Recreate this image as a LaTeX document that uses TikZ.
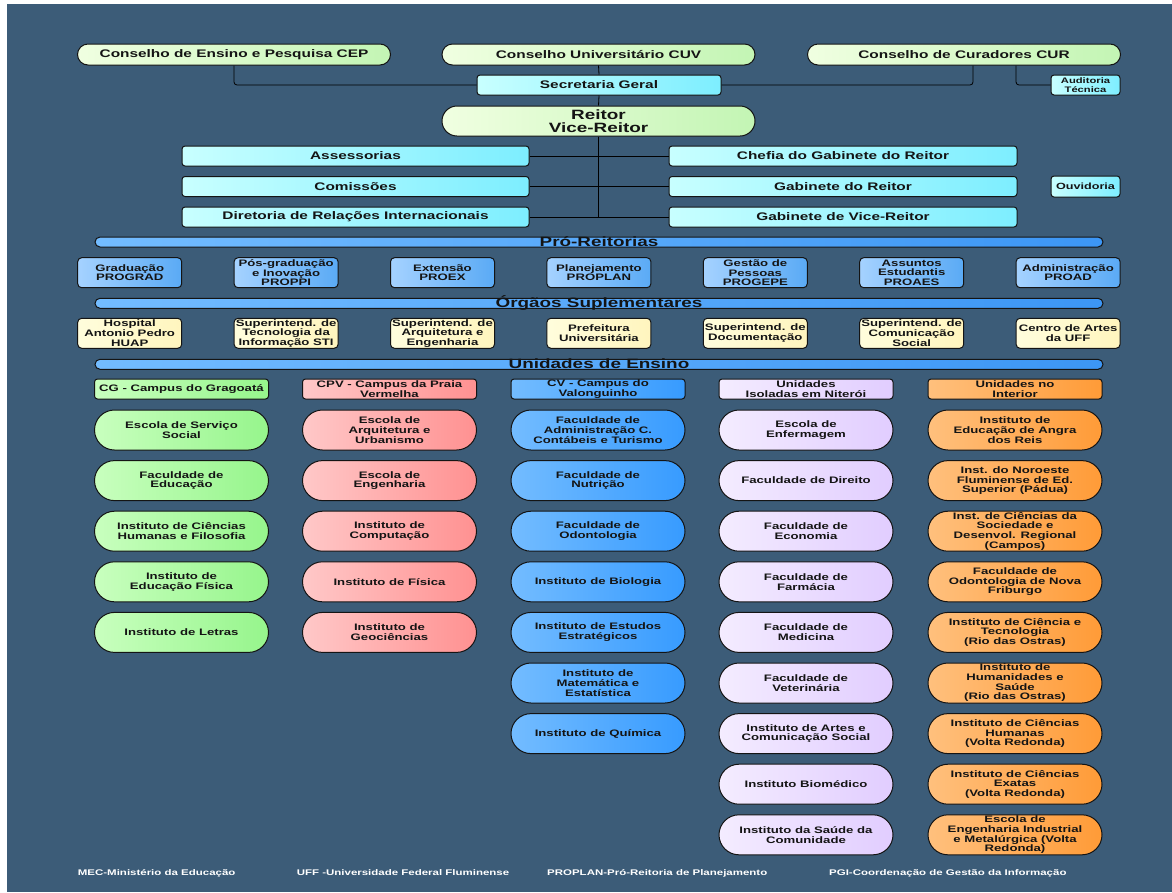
\documentclass[tikz,border=0pt]{standalone}
\usepackage{fontspec}
\newfontfamily\orgfont[FakeStretch=1.4]{Liberation Sans Bold}
\definecolor{bgc}{RGB}{60,92,120}
\definecolor{cnA}{RGB}{240,255,225}
\definecolor{cnB}{RGB}{195,245,180}
\definecolor{cyA}{RGB}{200,255,255}
\definecolor{cyB}{RGB}{125,238,255}
\definecolor{prA}{RGB}{165,210,255}
\definecolor{prB}{RGB}{90,170,245}
\definecolor{ogA}{RGB}{255,253,220}
\definecolor{ogB}{RGB}{255,245,190}
\definecolor{grA}{RGB}{200,255,190}
\definecolor{grB}{RGB}{150,245,140}
\definecolor{pkA}{RGB}{255,200,200}
\definecolor{pkB}{RGB}{255,145,145}
\definecolor{blA}{RGB}{115,188,255}
\definecolor{blB}{RGB}{55,155,255}
\definecolor{lvA}{RGB}{244,236,255}
\definecolor{lvB}{RGB}{225,205,255}
\definecolor{orA}{RGB}{255,192,125}
\definecolor{orB}{RGB}{255,155,55}
\definecolor{brA}{RGB}{115,188,255}
\definecolor{brB}{RGB}{60,150,245}
\definecolor{inkc}{RGB}{20,20,20}
\newcommand\fszA{\orgfont\fontsize{11}{12}\selectfont}
\newcommand\fszR{\orgfont\fontsize{13.5}{13.5}\selectfont}
\newcommand\fszS{\orgfont\fontsize{9.4}{9.7}\selectfont}
\newcommand\fszT{\orgfont\fontsize{8}{8.4}\selectfont}
\newcommand\fszO{\orgfont\fontsize{9}{9}\selectfont}
\newcommand\fszF{\orgfont\fontsize{8.2}{9}\selectfont}
\tikzset{
  box/.style={draw=inkc, line width=1pt, align=center, inner xsep=1pt, inner ysep=0pt, text=inkc},
  council/.style={box, rounded corners=10.5pt, minimum width=313pt, minimum height=21pt, left color=cnA, right color=cnB, font=\fszA},
  reitorbox/.style={box, rounded corners=15pt, minimum width=313pt, minimum height=30pt, left color=cnA, right color=cnB, font=\fszR},
  cybox/.style={box, rounded corners=3pt, minimum width=347pt, minimum height=20pt, left color=cyA, right color=cyB, font=\fszA},
  smallcy/.style={box, rounded corners=3pt, minimum width=69pt, minimum height=20pt, left color=cyA, right color=cyB},
  probox/.style={box, rounded corners=4pt, minimum width=104pt, minimum height=30pt, left color=prA, right color=prB, font=\fszS},
  orgbox/.style={box, rounded corners=4pt, minimum width=104pt, minimum height=30pt, left color=ogA, right color=ogB, font=\fszS},
  bar/.style={draw=inkc, line width=1pt, rounded corners=5pt, minimum width=1008pt, minimum height=10pt, inner sep=0pt, left color=brA, right color=brB},
  bartitle/.style={font=\fszR, text=inkc, inner sep=0pt, anchor=base},
  head/.style={box, rounded corners=3pt, minimum width=174pt, minimum height=20pt, font=\fszS},
  unit/.style={box, rounded corners=20pt, minimum width=174pt, minimum height=40pt, font=\fszS},
  gr/.style={left color=grA, right color=grB},
  pk/.style={left color=pkA, right color=pkB},
  bl/.style={left color=blA, right color=blB},
  lv/.style={left color=lvA, right color=lvB},
  orng/.style={left color=orA, right color=orB},
  conn/.style={draw=black, line width=0.8pt, rounded corners=3pt},
  foot/.style={font=\fszF, text=white, inner sep=0pt, anchor=base west}
}
\begin{document}
\begin{tikzpicture}[x=1pt,y=-1pt]
\useasboundingbox (0,0) rectangle (1172,892);
\fill[white] (0,0) rectangle (1172,892);
\fill[bgc] (7,4) rectangle (1172,892);

% top councils
\node[council] (cep) at (234,54.5) {Conselho de Ensino e Pesquisa CEP};
\node[council] (cuv) at (598.5,54.5) {Conselho Universitário CUV};
\node[council] (cur) at (964,54.5) {Conselho de Curadores CUR};
\node[cybox, minimum width=244pt] (sec) at (599,85) {Secretaria Geral};
\node[smallcy, font=\fszT] (aud) at (1085.5,85) {Auditoria\\Técnica};
\node[reitorbox] (rei) at (598.5,121) {Reitor\\Vice-Reitor};

\node[cybox] (ass) at (355.5,156) {Assessorias};
\node[cybox] (com) at (355.5,186.5) {Comissões};
\node[cybox] (dri) at (355.5,217) {Diretoria de Relações Internacionais};
\node[cybox, minimum width=348pt] (chf) at (843,156) {Chefia do Gabinete do Reitor};
\node[cybox, minimum width=348pt] (gab) at (843,186.5) {Gabinete do Reitor};
\node[cybox, minimum width=348pt] (gvr) at (843,217) {Gabinete de Vice-Reitor};
\node[smallcy, font=\fszO, minimum height=21pt] (ouv) at (1085.5,186.5) {Ouvidoria};

% connectors
\coordinate (vend) at (rei.south |- dri.east);
\draw[conn] (cep.south) |- (sec.west);
\draw[conn] ([xshift=9pt]cur.south) |- (sec.east);
\draw[conn] ([xshift=52pt]cur.south) |- (aud.west);
\draw[conn] (cuv.south) -- (sec.north);
\draw[conn] (sec.south) -- (rei.north);
\draw[conn] (rei.south) -- (vend);
\draw[conn] (ass.east) -- (chf.west);
\draw[conn] (com.east) -- (gab.west);
\draw[conn] (dri.east) -- (gvr.west);

% section bars
\node[bar] (bpr) at (599,242) {};
\node[bartitle] (tpr) at (599,246.5) {Pró-Reitorias};
\node[bar] (bog) at (599,303.3) {};
\node[bartitle] (tog) at (599,307.3) {Órgãos Suplementares};
\node[bar] (bun) at (599,364.3) {};
\node[bartitle] (tun) at (599,368.3) {Unidades de Ensino};

% pro-reitorias
\foreach \t [count=\i] in {{Graduação\\PROGRAD},{Pós-graduação\\e Inovação\\PROPPI},{Extensão\\PROEX},{Planejamento\\PROPLAN},{Gestão de\\Pessoas\\PROGEPE},{Assuntos\\Estudantis\\PROAES},{Administração\\PROAD}}
  \node[probox] (pr\i) at ({129.7+(\i-1)*156.4},272.7) {\t};

% orgaos suplementares
\foreach \t [count=\i] in {{Hospital\\Antonio Pedro\\HUAP},{Superintend. de\\Tecnologia da\\Informação STI},{Superintend. de\\Arquitetura e\\Engenharia},{Prefeitura\\Universitária},{Superintend. de\\Documentação},{Superintend. de\\Comunicação\\Social},{Centro de Artes\\da UFF}}
  \node[orgbox] (og\i) at ({129.7+(\i-1)*156.4},333.3) {\t};

% column headers
\node[head, gr] (h1) at (181.5,389) {CG - Campus do Gragoatá};
\node[head, pk] (h2) at (389.5,389) {CPV - Campus da Praia\\Vermelha};
\node[head, bl] (h3) at (598,389) {CV - Campus do\\Valonguinho};
\node[head, lv] (h4) at (806,389) {Unidades\\Isoladas em Niterói};
\node[head, orng] (h5) at (1015,389) {Unidades no\\Interior};

% units
\foreach \t [count=\i] in {{Escola de Serviço\\Social},{Faculdade de\\Educação},{Instituto de Ciências\\Humanas e Filosofia},{Instituto de\\Educação Física},{Instituto de Letras}}
  \node[unit, gr] (ua\i) at (181.5,{430+(\i-1)*50.6}) {\t};
\foreach \t [count=\i] in {{Escola de\\Arquitetura e\\Urbanismo},{Escola de\\Engenharia},{Instituto de\\Computação},{Instituto de Física},{Instituto de\\Geociências}}
  \node[unit, pk] (ub\i) at (389.5,{430+(\i-1)*50.6}) {\t};
\foreach \t [count=\i] in {{Faculdade de\\Administração C.\\Contábeis e Turismo},{Faculdade de\\Nutrição},{Faculdade de\\Odontologia},{Instituto de Biologia},{Instituto de Estudos\\Estratégicos},{Instituto de\\Matemática e\\Estatística},{Instituto de Química}}
  \node[unit, bl] (uc\i) at (598,{430+(\i-1)*50.6}) {\t};
\foreach \t [count=\i] in {{Escola de\\Enfermagem},{Faculdade de Direito},{Faculdade de\\Economia},{Faculdade de\\Farmácia},{Faculdade de\\Medicina},{Faculdade de\\Veterinária},{Instituto de Artes e\\Comunicação Social},{Instituto Biomédico},{Instituto da Saúde da\\Comunidade}}
  \node[unit, lv] (ud\i) at (806,{430+(\i-1)*50.6}) {\t};
\foreach \t [count=\i] in {{Instituto de\\Educação de Angra\\dos Reis},{Inst. do Noroeste\\Fluminense de Ed.\\Superior (Pádua)},{Inst. de Ciências da\\Sociedade e\\Desenvol. Regional\\(Campos)},{Faculdade de\\Odontologia de Nova\\Friburgo},{Instituto de Ciência e\\Tecnologia\\(Rio das Ostras)},{Instituto de\\Humanidades e\\Saúde\\(Rio das Ostras)},{Instituto de Ciências\\Humanas\\(Volta Redonda)},{Instituto de Ciências\\Exatas\\(Volta Redonda)},{Escola de\\Engenharia Industrial\\e Metalúrgica (Volta\\Redonda)}}
  \node[unit, orng] (ue\i) at (1015,{430+(\i-1)*50.6}) {\t};

% footer
\node[foot] (f1) at (77.7,875) {MEC-Ministério da Educação};
\node[foot] (f2) at (296.6,875) {UFF -Universidade Federal Fluminense};
\node[foot] (f3) at (547,875) {PROPLAN-Pró-Reitoria de Planejamento};
\node[foot] (f4) at (829,875) {PGI-Coordenação de Gestão da Informação};
\end{tikzpicture}
\end{document}
